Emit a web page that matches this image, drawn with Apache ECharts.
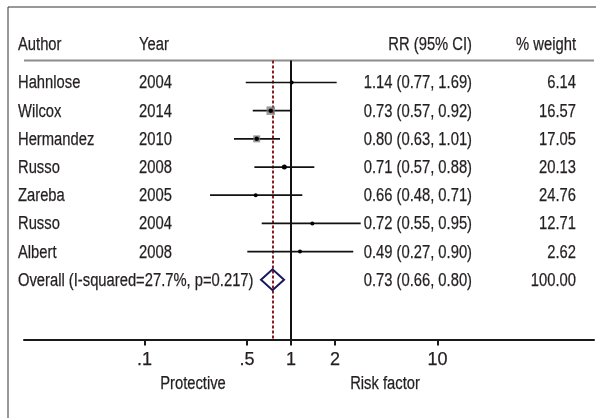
<!DOCTYPE html>
<html>
<head>
<meta charset="utf-8">
<script src="https://cdn.jsdelivr.net/npm/echarts@6.0.0/dist/echarts.min.js"></script>
<style>
  html, body { margin: 0; padding: 0; background: #fff; }
  #chart { width: 596px; height: 418px; }
</style>
</head>
<body>
<div id="chart"></div>
<script>
// ---- data ----
const authors = ['Hahnlose', 'Wilcox', 'Hermandez', 'Russo', 'Zareba', 'Russo', 'Albert'];
const years = ['2004', '2014', '2010', '2008', '2005', '2004', '2008'];
const rrLabels = ['1.14 (0.77, 1.69)', '0.73 (0.57, 0.92)', '0.80 (0.63, 1.01)', '0.71 (0.57, 0.88)',
                  '0.66 (0.48, 0.71)', '0.72 (0.55, 0.95)', '0.49 (0.27, 0.90)'];
const weightLabels = ['6.14', '16.57', '17.05', '20.13', '24.76', '12.71', '2.62'];
// positions of the plotted marks as drawn (RR scale)
const plotEst  = [1.01, 0.727, 0.583, 0.90, 0.574, 1.398, 1.152];
const plotLow  = [0.491, 0.548, 0.408, 0.562, 0.280, 0.631, 0.503];
const plotHigh = [2.05, 0.995, 0.841, 1.442, 1.194, 2.99, 2.66];
const overallLabel = 'Overall (I-squared=27.7%, p=0.217)';
const overallRR = '0.73 (0.66, 0.80)';
const overallWeight = '100.00';
const overallEst = 0.748, overallLow = 0.624, overallHigh = 0.896;
const nullValue = 1;
const tickValues = [0.1, 0.5, 1, 2, 10];
const tickLabels = ['.1', '.5', '1', '2', '10'];

// ---- style config ----
const boxSizes = [0, 8.5, 7, 0, 0, 0, 0];
const dotSizes = [4, 4.5, 4.5, 5, 4, 4, 4];
const FONT = '"Liberation Sans", Arial, sans-serif';
const FS = 18;
const NARROW = 0.82;
const TXT = '#231f20';

const rowData = authors.map((a, i) => [plotLow[i], plotEst[i], plotHigh[i], i]);
const textRows = authors.map((a, i) => [i, a, years[i], rrLabels[i], weightLabels[i]]);
textRows.push([authors.length, overallLabel, '', overallRR, overallWeight]);

function txt(text, x, y, align) {
  return { type: 'text', x: x, y: y, scaleX: NARROW, scaleY: 1,
    style: { text: text, x: 0, y: 0, textAlign: align, textVerticalAlign: 'middle',
      verticalAlign: 'middle', fill: TXT, fontSize: FS, fontFamily: FONT,
      stroke: TXT, lineWidth: 0.25 } };
}

const chart = echarts.init(document.getElementById('chart'), null, { renderer: 'canvas' });
chart.setOption({
  animation: false,
  backgroundColor: '#fff',
  grid: { left: 24, right: 2, top: 60.5, bottom: 78.5, containLabel: false },
  xAxis: {
    type: 'log', logBase: 10, min: 0.01504, max: 117.0,
    splitLine: { show: false },
    axisLine: { show: true, onZero: false, lineStyle: { color: '#1a1a1a', width: 2 } },
    axisTick: { show: true, customValues: tickValues, length: 6, inside: false,
      lineStyle: { color: '#1a1a1a', width: 2 } },
    axisLabel: { show: true, customValues: tickValues, margin: 12, color: TXT, fontSize: FS, fontFamily: FONT,
      textBorderColor: TXT, textBorderWidth: 0.25,
      formatter: function (v) {
        let best = 0;
        for (let k = 0; k < tickValues.length; k++) {
          if (Math.abs(Math.log10(v) - Math.log10(tickValues[k])) < Math.abs(Math.log10(v) - Math.log10(tickValues[best]))) best = k;
        }
        return tickLabels[best];
      } }
  },
  yAxis: { type: 'value', inverse: true, min: -0.78, max: 9.12, show: false, splitLine: { show: false } },
  series: [
    {
      type: 'custom',
      name: 'studies',
      encode: { x: [0, 1, 2], y: 3 },
      data: rowData,
      z: 5,
      renderItem: function (params, api) {
        const i = params.dataIndex;
        const row = api.value(3);
        const lo = api.coord([api.value(0), row]);
        const est = api.coord([api.value(1), row]);
        const hi = api.coord([api.value(2), row]);
        const children = [
          { type: 'line', shape: { x1: lo[0], y1: lo[1], x2: hi[0], y2: hi[1] },
            style: { stroke: '#111', lineWidth: 1.7 } }
        ];
        const b = boxSizes[i];
        if (b > 0) {
          children.push({ type: 'rect', shape: { x: est[0] - b / 2, y: est[1] - b / 2, width: b, height: b },
            style: { fill: 'rgba(120,120,120,0.75)' } });
        }
        children.push({ type: 'circle', shape: { cx: est[0], cy: est[1], r: dotSizes[i] / 2 },
          style: { fill: '#000' } });
        return { type: 'group', children: children };
      }
    },
    {
      type: 'custom',
      name: 'overall',
      encode: { x: [0, 1, 2], y: 3 },
      data: [[overallLow, overallEst, overallHigh, authors.length]],
      z: 6,
      renderItem: function (params, api) {
        const row = api.value(3);
        const lo = api.coord([api.value(0), row]);
        const est = api.coord([api.value(1), row]);
        const hi = api.coord([api.value(2), row]);
        const h = 10.5;
        return { type: 'polygon',
          shape: { points: [[lo[0], est[1]], [est[0], est[1] - h], [hi[0], est[1]], [est[0], est[1] + h]] },
          style: { fill: 'rgba(255,255,255,0)', stroke: '#16195a', lineWidth: 2 } };
      },
      markLine: {
        silent: true, symbol: 'none', label: { show: false },
        data: [
          { xAxis: nullValue, lineStyle: { color: '#111', width: 2, type: 'solid' } },
          { xAxis: overallEst, lineStyle: { color: '#8a1c24', width: 2, type: [3, 2] } }
        ]
      }
    },
    {
      type: 'custom',
      name: 'texts',
      encode: { y: 0 },
      data: textRows,
      z: 4,
      renderItem: function (params, api) {
        const d = textRows[params.dataIndex];
        const y = api.coord([1, d[0]])[1] + 1;
        return { type: 'group', children: [
          txt(d[1], 18, y, 'left'),
          txt(d[2], 139, y, 'left'),
          txt(d[3], 472, y, 'right'),
          txt(d[4], 576, y, 'right')
        ] };
      }
    }
  ],
  graphic: [
    { type: 'line', shape: { x1: 8, y1: 7, x2: 596, y2: 7 }, style: { stroke: '#333', lineWidth: 1 } },
    { type: 'line', shape: { x1: 8, y1: 7, x2: 8, y2: 418 }, style: { stroke: '#333', lineWidth: 1 } },
    { type: 'line', shape: { x1: 24, y1: 60.5, x2: 594, y2: 60.5 }, style: { stroke: '#8c8c8c', lineWidth: 2 } },
    txt('Author', 18, 45, 'left'),
    txt('Year', 139, 45, 'left'),
    txt('RR (95% CI)', 472, 45, 'right'),
    txt('% weight', 576, 45, 'right'),
    txt('Protective', 193, 384, 'center'),
    txt('Risk factor', 385, 384, 'center')
  ]
});
</script>
</body>
</html>
